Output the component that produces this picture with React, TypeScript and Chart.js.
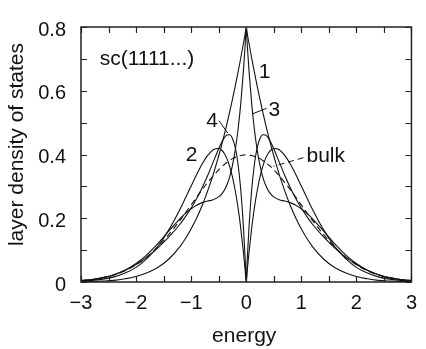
import React, { useEffect, useRef } from 'react';
import { Chart, registerables } from 'chart.js';

Chart.register(...registerables);

// energy grid (x values)
const energy = [
  -3, -2.8, -2.6, -2.4, -2.2, -2, -1.8, -1.6, -1.4, -1.2, -1.1, -1, -0.9, -0.8, -0.7, -0.6,
  -0.5, -0.45, -0.4, -0.35, -0.3, -0.25, -0.2, -0.15, -0.1, -0.05, -0.02, 0,
  0.02, 0.05, 0.1, 0.15, 0.2, 0.25, 0.3, 0.35, 0.4, 0.45, 0.5,
  0.6, 0.7, 0.8, 0.9, 1, 1.1, 1.2, 1.4, 1.6, 1.8, 2, 2.2, 2.4, 2.6, 2.8, 3,
];

const bulkDos = [
  0.004, 0.008, 0.014, 0.022, 0.035, 0.054, 0.079, 0.111, 0.150, 0.194, 0.218, 0.242, 0.266, 0.290, 0.312, 0.333,
  0.352, 0.361, 0.368, 0.375, 0.381, 0.387, 0.391, 0.394, 0.397, 0.398, 0.399, 0.399,
  0.399, 0.398, 0.397, 0.394, 0.391, 0.387, 0.381, 0.375, 0.368, 0.361, 0.352,
  0.333, 0.312, 0.290, 0.266, 0.242, 0.218, 0.194, 0.150, 0.111, 0.079, 0.054, 0.035, 0.022, 0.014, 0.008, 0.004,
];

const layer1Dos = [
  0.001, 0.002, 0.003, 0.005, 0.010, 0.017, 0.029, 0.046, 0.073, 0.112, 0.137, 0.167, 0.201, 0.240, 0.286, 0.337,
  0.396, 0.427, 0.461, 0.496, 0.534, 0.573, 0.614, 0.657, 0.702, 0.749, 0.778, 0.798,
  0.778, 0.749, 0.702, 0.657, 0.614, 0.573, 0.534, 0.496, 0.461, 0.427, 0.396,
  0.337, 0.286, 0.240, 0.201, 0.167, 0.137, 0.112, 0.073, 0.046, 0.029, 0.017, 0.010, 0.005, 0.003, 0.002, 0.001,
];

const layer2Dos = [
  0.002, 0.005, 0.009, 0.016, 0.028, 0.046, 0.074, 0.113, 0.165, 0.229, 0.265, 0.301, 0.337, 0.370, 0.397, 0.415,
  0.419, 0.414, 0.404, 0.387, 0.362, 0.330, 0.287, 0.235, 0.170, 0.092, 0.039, 0,
  0.039, 0.092, 0.170, 0.235, 0.287, 0.330, 0.362, 0.387, 0.404, 0.414, 0.419,
  0.415, 0.397, 0.370, 0.337, 0.301, 0.265, 0.229, 0.165, 0.113, 0.074, 0.046, 0.028, 0.016, 0.009, 0.005, 0.002,
];

const layer3Dos = [
  0.004, 0.007, 0.013, 0.023, 0.037, 0.058, 0.086, 0.121, 0.161, 0.199, 0.216, 0.230, 0.241, 0.249, 0.254, 0.258,
  0.267, 0.275, 0.287, 0.305, 0.330, 0.366, 0.413, 0.476, 0.558, 0.664, 0.741, 0.798,
  0.741, 0.664, 0.558, 0.476, 0.413, 0.366, 0.330, 0.305, 0.287, 0.275, 0.267,
  0.258, 0.254, 0.249, 0.241, 0.230, 0.216, 0.199, 0.161, 0.121, 0.086, 0.058, 0.037, 0.023, 0.013, 0.007, 0.004,
];

const layer4Dos = [
  0.005, 0.008, 0.014, 0.023, 0.037, 0.055, 0.079, 0.108, 0.142, 0.182, 0.206, 0.232, 0.262, 0.296, 0.334, 0.376,
  0.418, 0.437, 0.452, 0.461, 0.462, 0.450, 0.422, 0.371, 0.291, 0.170, 0.075, 0,
  0.075, 0.170, 0.291, 0.371, 0.422, 0.450, 0.462, 0.461, 0.452, 0.437, 0.418,
  0.376, 0.334, 0.296, 0.262, 0.232, 0.206, 0.182, 0.142, 0.108, 0.079, 0.055, 0.037, 0.023, 0.014, 0.008, 0.005,
];

const xMinorTicks = [-3, -2.5, -2, -1.5, -1, -0.5, 0, 0.5, 1, 1.5, 2, 2.5, 3];
const yMinorTicks = [0, 0.1, 0.2, 0.3, 0.4, 0.5, 0.6, 0.7, 0.8];

const xTitle = 'energy';
const yTitle = 'layer density of states';
const systemLabel = 'sc(1111...)';

// annotation texts with anchor in data coordinates
const curveLabels = [
  { text: '1', x: 0.335, y: 0.658 },
  { text: '3', x: 0.51, y: 0.54 },
  { text: '4', x: -0.62, y: 0.506 },
  { text: '2', x: -0.99, y: 0.399 },
];
const leaderLines = [
  { x1: 0.106, y1: 0.527, x2: 0.37, y2: 0.545, dashed: false },
  { x1: -0.494, y1: 0.506, x2: -0.335, y2: 0.467, dashed: false },
  { x1: 1.04, y1: 0.39, x2: 0.494, y2: 0.363, dashed: true },
];

const FONT = '"Liberation Sans", Arial, Helvetica, sans-serif';
const INK = '#111';

const decorPlugin = {
  id: 'decor',
  afterDatasetsDraw(chart: any) {
    const { ctx, chartArea: a, scales } = chart;
    const xs = scales.x;
    const ys = scales.y;
    ctx.save();
    // frame
    ctx.strokeStyle = '#222';
    ctx.lineWidth = 1.5;
    ctx.strokeRect(a.left, a.top, a.right - a.left, a.bottom - a.top);
    // inward ticks
    ctx.lineWidth = 1.2;
    ctx.beginPath();
    xMinorTicks.forEach((v) => {
      const px = Math.round(xs.getPixelForValue(v)) + 0.5;
      ctx.moveTo(px, a.bottom);
      ctx.lineTo(px, a.bottom - 6);
      ctx.moveTo(px, a.top);
      ctx.lineTo(px, a.top + 6);
    });
    yMinorTicks.forEach((v) => {
      const py = Math.round(ys.getPixelForValue(v)) + 0.5;
      ctx.moveTo(a.left, py);
      ctx.lineTo(a.left + 6, py);
      ctx.moveTo(a.right, py);
      ctx.lineTo(a.right - 6, py);
    });
    ctx.stroke();

    // leader lines
    ctx.strokeStyle = INK;
    ctx.lineWidth = 1;
    leaderLines.forEach((l) => {
      ctx.setLineDash(l.dashed ? [6, 4] : []);
      ctx.beginPath();
      ctx.moveTo(xs.getPixelForValue(l.x1), ys.getPixelForValue(l.y1));
      ctx.lineTo(xs.getPixelForValue(l.x2), ys.getPixelForValue(l.y2));
      ctx.stroke();
    });
    ctx.setLineDash([]);

    // labels
    ctx.fillStyle = INK;
    ctx.font = `21px ${FONT}`;
    ctx.textAlign = 'center';
    ctx.textBaseline = 'middle';
    curveLabels.forEach((c) => {
      ctx.fillText(c.text, xs.getPixelForValue(c.x), ys.getPixelForValue(c.y));
    });
    ctx.textAlign = 'left';
    ctx.fillText('bulk', xs.getPixelForValue(1.094), ys.getPixelForValue(0.396));
    ctx.textBaseline = 'alphabetic';
    ctx.fillText(systemLabel, xs.getPixelForValue(-2.66), ys.getPixelForValue(0.68));

    // axis titles
    ctx.textAlign = 'center';
    ctx.fillText(xTitle, (a.left + a.right) / 2 - 2, 342);
    ctx.translate(23, (a.top + a.bottom) / 2 - 10);
    ctx.rotate(-Math.PI / 2);
    ctx.fillText(yTitle, 0, 0);
    ctx.restore();
  },
};

export default function App() {
  const ref = useRef<HTMLCanvasElement | null>(null);

  useEffect(() => {
    if (!ref.current) return;
    const mk = (vals: number[]) => energy.map((e, i) => ({ x: e, y: vals[i] }));
    const base = {
      borderColor: INK,
      borderWidth: 1.1,
      pointRadius: 0,
      fill: false,
      cubicInterpolationMode: 'monotone' as const,
      borderJoinStyle: 'round' as const,
    };
    const chart = new Chart(ref.current, {
      type: 'line',
      data: {
        datasets: [
          { ...base, label: 'bulk', data: mk(bulkDos), borderDash: [6, 4] },
          { ...base, label: '1', data: mk(layer1Dos) },
          { ...base, label: '2', data: mk(layer2Dos) },
          { ...base, label: '3', data: mk(layer3Dos) },
          { ...base, label: '4', data: mk(layer4Dos) },
        ],
      },
      options: {
        animation: false,
        responsive: false,
        devicePixelRatio: 1,
        layout: { padding: { top: 13, right: 5, left: 0, bottom: 0 } },
        plugins: { legend: { display: false }, tooltip: { enabled: false }, title: { display: false } },
        scales: {
          x: {
            type: 'linear',
            min: -3,
            max: 3,
            grid: { display: false, drawTicks: false },
            border: { display: false },
            ticks: {
              stepSize: 1,
              padding: 9,
              color: INK,
              font: { family: FONT, size: 20 },
              maxRotation: 0,
              callback: (v: any) => (Number(v) < 0 ? '\u2212' + Math.abs(Number(v)) : String(v)),
            },
            afterFit: (s: any) => {
              s.height = 67;
            },
          },
          y: {
            type: 'linear',
            min: 0,
            max: 0.8,
            grid: { display: false, drawTicks: false },
            border: { display: false },
            ticks: {
              stepSize: 0.2,
              padding: 15,
              labelOffset: 3,
              color: INK,
              font: { family: FONT, size: 20 },
              callback: (v: any) => (Number(v) === 0 ? '0' : Number(v).toFixed(1)),
            },
            afterFit: (s: any) => {
              s.width = 81;
            },
          },
        },
      },
      plugins: [decorPlugin],
    });
    return () => chart.destroy();
  }, []);

  return (
    <div style={{ position: 'absolute', left: 0, top: 0, width: 426, height: 349, background: '#fff' }}>
      <canvas ref={ref} width={426} height={349} style={{ display: 'block' }} />
    </div>
  );
}
